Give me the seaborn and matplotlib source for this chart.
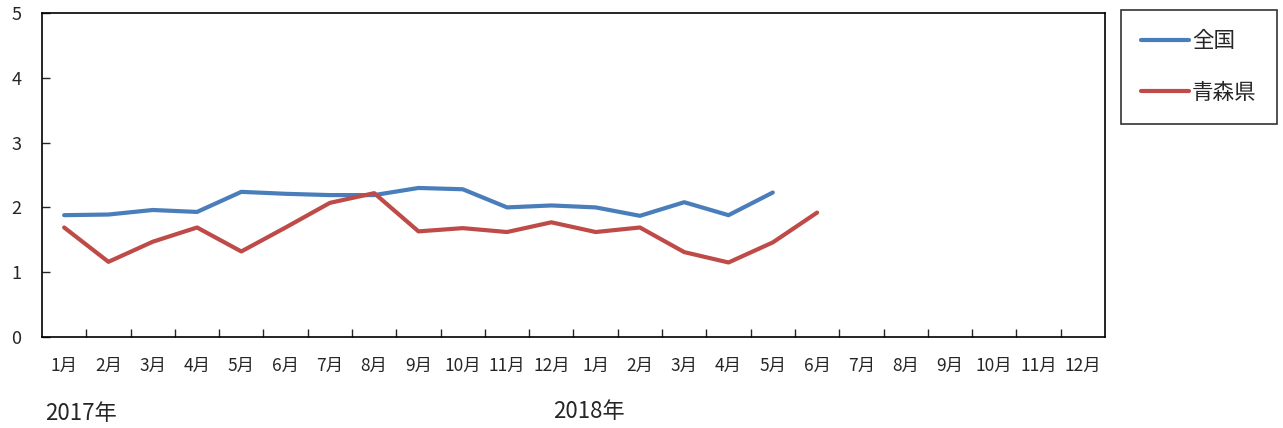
#失業率の推移 全国と青森県 (2017-2018)
import pandas as pd
import numpy as np
import matplotlib
matplotlib.use('Agg')
import matplotlib.pyplot as plt
import seaborn as sns

#data
months=['1月','2月','3月','4月','5月','6月','7月','8月','9月','10月','11月','12月']
labels=months+months
zenkoku=[1.88,1.89,1.96,1.93,2.24,2.21,2.19,2.19,2.30,2.28,2.00,2.03,
         2.00,1.87,2.08,1.88,2.23]
aomori=[1.69,1.16,1.47,1.69,1.32,1.69,2.07,2.22,1.63,1.68,1.62,1.77,
        1.62,1.69,1.31,1.15,1.46,1.92]

df=pd.concat([
    pd.DataFrame({'pos':range(len(zenkoku)),'value':zenkoku,'series':'全国'}),
    pd.DataFrame({'pos':range(len(aomori)),'value':aomori,'series':'青森県'}),
])

sns.set_style('ticks')
plt.rcParams['font.family']=['Noto Sans CJK JP','DejaVu Sans']

fig=plt.figure(figsize=(12.83,4.28),dpi=100)
ax=fig.add_axes([42/1283,1-337/428,1063/1283,324/428])

sns.lineplot(data=df,x='pos',y='value',hue='series',
             palette={'全国':'#4a7ebb','青森県':'#be4b48'},
             linewidth=3,ax=ax,legend=False)

ax.set_xlim(-0.5,len(labels)-0.5)
ax.set_ylim(0,5)
ax.set_xticks(np.arange(0.5,len(labels)-1,1))
ax.set_xticklabels([])
ax.set_xticks(np.arange(len(labels)),minor=True)
ax.set_xticklabels(labels,minor=True,fontsize=12.5)
ax.tick_params(axis='x',which='major',direction='in',length=6,width=1)
ax.tick_params(axis='x',which='minor',length=0,pad=14)
ax.set_yticks(range(6))
ax.tick_params(axis='y',direction='in',length=6,width=1,pad=15,labelsize=13)
ax.set_xlabel('')
ax.set_ylabel('')
for s in ax.spines.values():
    s.set_visible(True)
    s.set_color('black')
    s.set_linewidth(1.2)

#legend
from matplotlib.lines import Line2D
handles=[Line2D([],[],color='#4a7ebb',lw=3),Line2D([],[],color='#be4b48',lw=3)]
leg=fig.legend(handles,['全国','青森県'],loc='upper left',
               bbox_to_anchor=(1121/1283,1-10/428),fontsize=15.5,
               frameon=True,fancybox=False,edgecolor='black',
               handlelength=2.2,handletextpad=0.15,labelspacing=1.35,
               borderpad=0.95,borderaxespad=0)
leg.get_frame().set_linewidth(1.2)

fig.text(45/1283,1-413/428,'2017年',fontsize=16,va='center',ha='left')
fig.text(553/1283,1-411/428,'2018年',fontsize=16,va='center',ha='left')

fig.savefig('out.png',dpi=100)
